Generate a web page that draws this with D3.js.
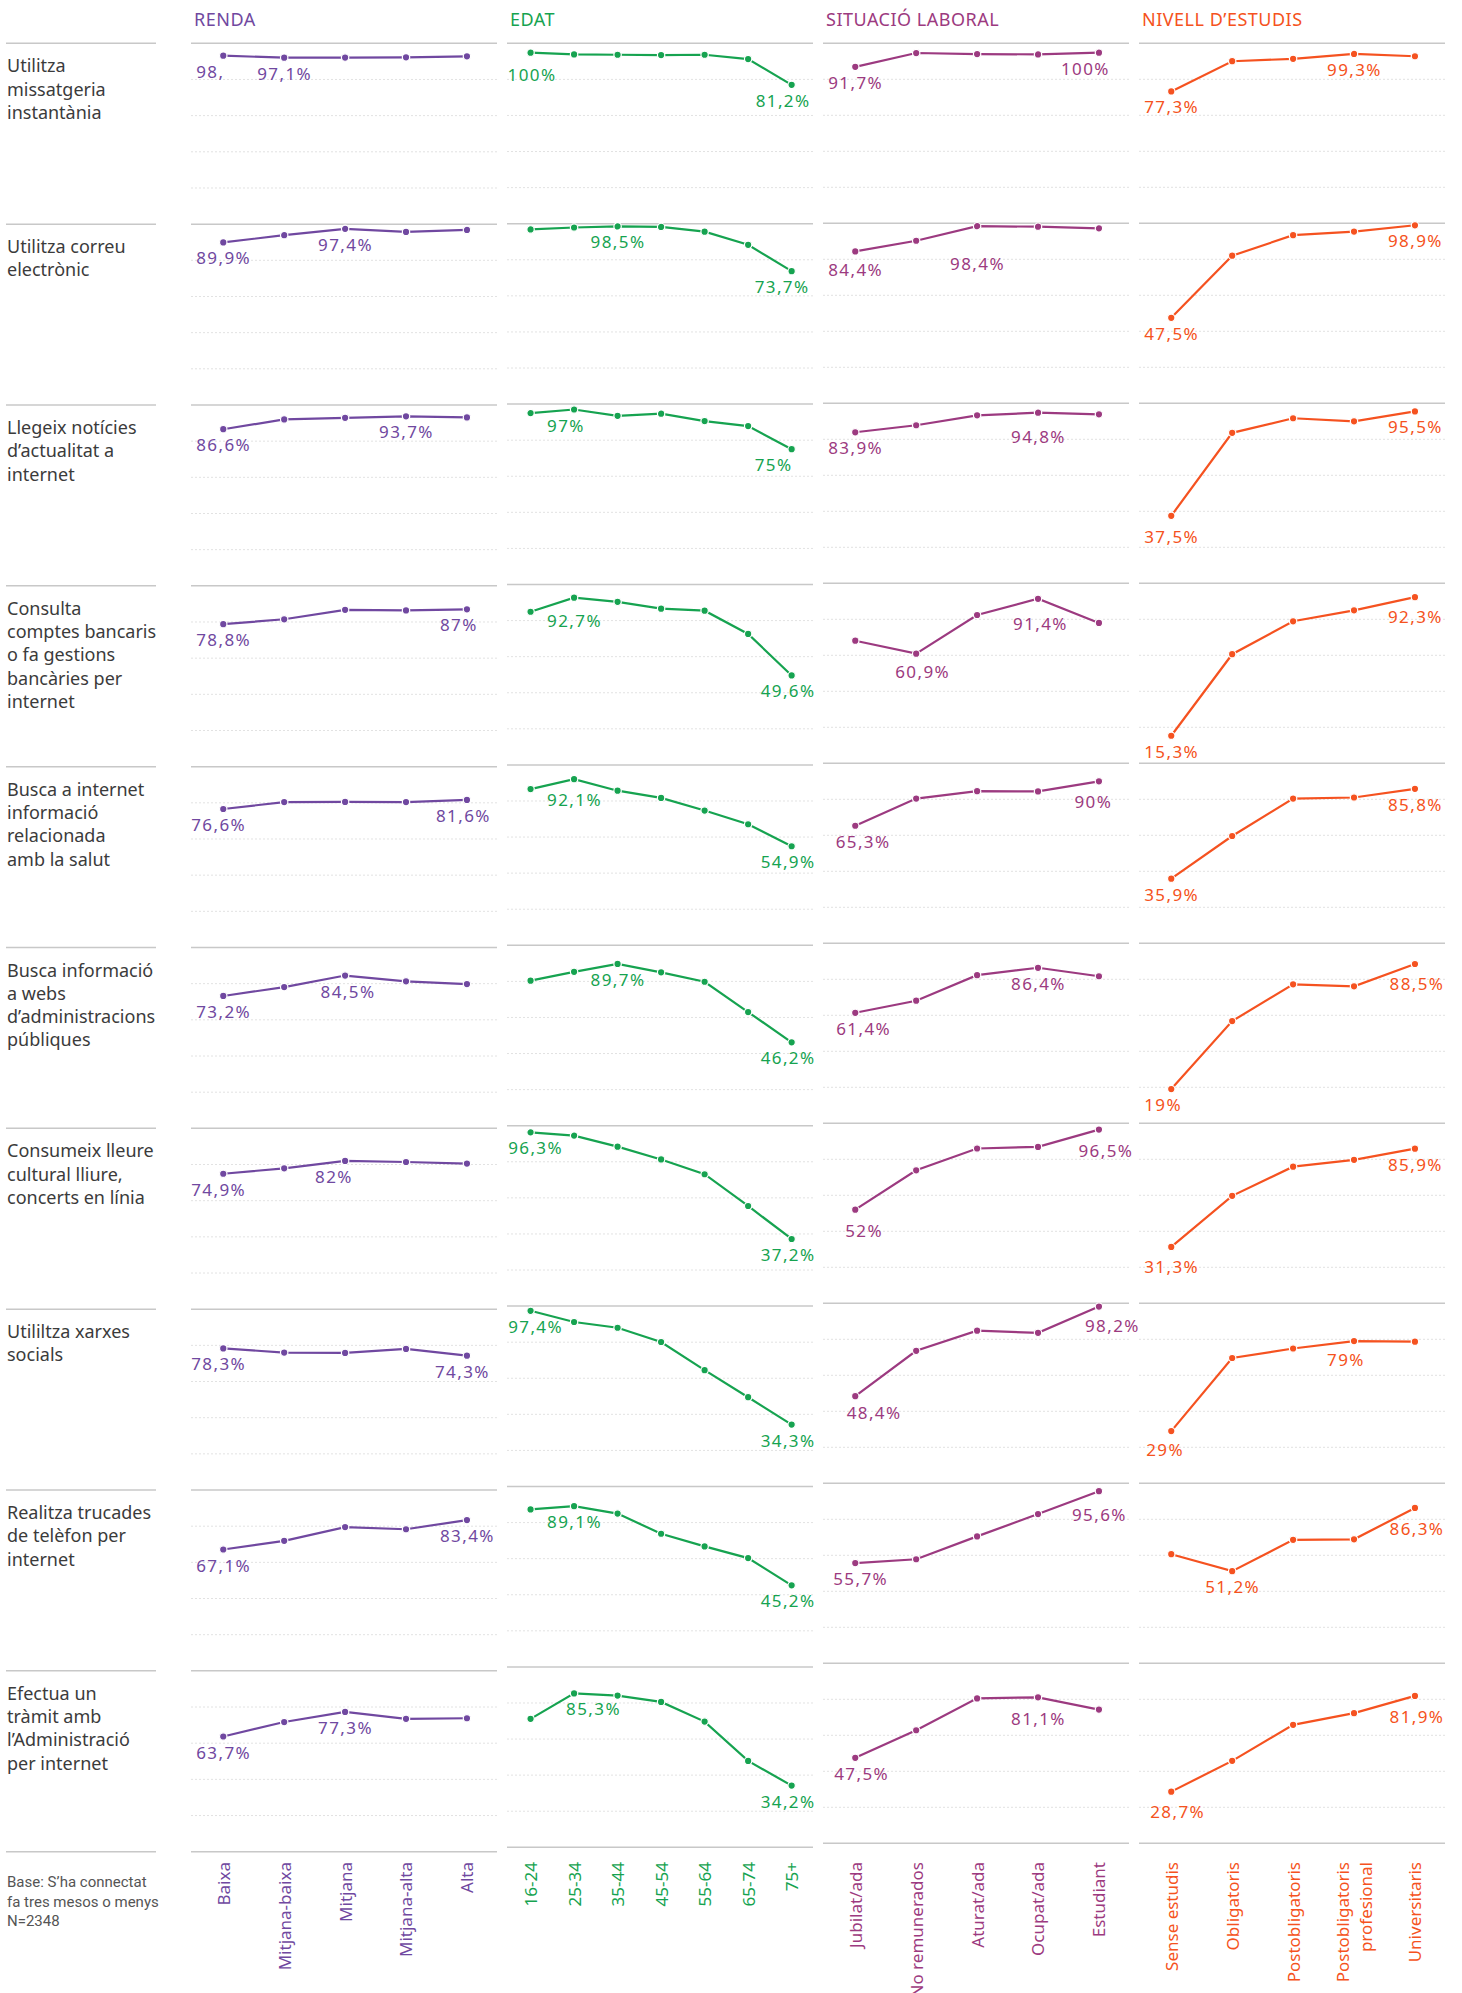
<!DOCTYPE html>
<html><head><meta charset="utf-8">
<script src="https://cdn.jsdelivr.net/npm/d3@7"></script>
<style>
body{margin:0;background:#fff;}
svg{display:block;font-family:'Noto Sans',sans-serif;}
</style>
</head><body>
<svg id="chart" width="1462" height="1993"></svg>
<script>
// ---------- DATA ----------
const columnTitles = ["RENDA", "EDAT", "SITUACIÓ LABORAL", "NIVELL D’ESTUDIS"];

const rendaCats = ["Baixa", "Mitjana-baixa", "Mitjana", "Mitjana-alta", "Alta"];
const edatCats = ["16-24", "25-34", "35-44", "45-54", "55-64", "65-74", "75+"];
const situacioCats = ["Jubilat/ada", "No remunerados", "Aturat/ada", "Ocupat/ada", "Estudiant"];
const estudisCats = ["Sense estudis", "Obligatoris", "Postobligatoris", "Postobligatoris profesional", "Universitaris"];

const rowLabels = [
  ["Utilitza", "missatgeria", "instantània"],
  ["Utilitza correu", "electrònic"],
  ["Llegeix notícies", "d’actualitat a", "internet"],
  ["Consulta", "comptes bancaris", "o fa gestions", "bancàries per", "internet"],
  ["Busca a internet", "informació", "relacionada", "amb la salut"],
  ["Busca informació", "a webs", "d’administracions", "públiques"],
  ["Consumeix lleure", "cultural lliure,", "concerts en línia"],
  ["Utililtza xarxes", "socials"],
  ["Realitza trucades", "de telèfon per", "internet"],
  ["Efectua un", "tràmit amb", "l’Administració", "per internet"]
];

const rendaValues = [
  [98.3, 97.1, 97.2, 97.3, 97.9],
  [89.9, 93.9, 97.4, 95.7, 96.8],
  [86.6, 92.0, 92.9, 93.7, 93.1],
  [78.8, 81.5, 86.7, 86.4, 87],
  [76.6, 80.4, 80.5, 80.4, 81.6],
  [73.2, 78.1, 84.5, 81.3, 79.8],
  [74.9, 77.9, 82, 81.4, 80.5],
  [78.3, 76.0, 75.8, 78.0, 74.3],
  [67.1, 71.9, 79.5, 78.3, 83.4],
  [63.7, 71.7, 77.3, 73.5, 73.8]
];
const edatValues = [
  [100, 99.0, 98.8, 98.6, 98.8, 96.3, 81.2],
  [96.8, 97.9, 98.5, 98.2, 95.6, 88.3, 73.7],
  [95.0, 97, 93.5, 94.7, 90.6, 87.8, 75],
  [84.9, 92.7, 90.4, 86.6, 85.5, 72.6, 49.6],
  [86.6, 92.1, 85.7, 81.7, 74.7, 67.1, 54.9],
  [80.4, 85.3, 89.7, 85.0, 79.8, 63.0, 46.2],
  [96.3, 94.5, 88.4, 81.3, 73.1, 55.5, 37.2],
  [97.4, 91.2, 88.0, 80.1, 64.5, 49.5, 34.3],
  [87.3, 89.1, 85.0, 73.8, 66.8, 60.3, 45.2],
  [71.2, 85.3, 84.1, 80.6, 69.7, 47.9, 34.2]
];
const situacioValues = [
  [91.7, 99.8, 99.2, 99.0, 100],
  [84.4, 90.3, 98.4, 98.1, 97.2],
  [83.9, 87.8, 93.3, 94.8, 93.9],
  [68.1, 60.9, 82.4, 91.4, 78.0],
  [65.3, 80.4, 84.5, 84.4, 90],
  [61.4, 68.1, 82.3, 86.4, 81.7],
  [52, 73.9, 86.0, 86.9, 96.5],
  [48.4, 73.6, 84.8, 83.6, 98.2],
  [55.7, 57.8, 70.5, 82.9, 95.6],
  [47.5, 62.8, 80.5, 81.1, 74.3]
];
const estudisValues = [
  [77.3, 95.0, 96.4, 99.3, 97.9],
  [47.5, 82.0, 93.4, 95.4, 98.9],
  [37.5, 83.6, 91.7, 90.0, 95.5],
  [15.3, 60.6, 78.9, 85.0, 92.3],
  [35.9, 59.6, 80.4, 81.0, 85.8],
  [19, 56.8, 77.2, 76.1, 88.5],
  [31.3, 59.7, 75.9, 79.7, 85.9],
  [29, 69.6, 74.9, 79, 78.7],
  [60.6, 51.2, 68.6, 68.9, 86.3],
  [28.7, 45.8, 65.8, 72.3, 81.9]
];

const footnoteLines = ["Base: S’ha connectat", "fa tres mesos o menys", "N=2348"];

// label text as printed in the source (truncated)
const labelTextOverrides = [{row: 0, col: 0, i: 0, text: "98,"}];

// ---------- LAYOUT / STYLE ----------
const columns = [
  {cats: rendaCats, values: rendaValues, color: "#7048a0"},
  {cats: edatCats, values: edatValues, color: "#16a350"},
  {cats: situacioCats, values: situacioValues, color: "#9c3a80"},
  {cats: estudisCats, values: estudisValues, color: "#f55220"}
];
const top0 = 43.3;
const colX = [191, 507, 823, 1139];
const colW = 306;
const rowH = [180.84, 180.4, 180.0, 180.0];
const rowDomainMax = [105.5, 100, 100, 100, 100, 100, 100, 100, 100, 100];
const axisTop = 1862;
const labelBase = 22;
// label placement nudges: [row, col, pointIndex, dx, baselineOffset]
const labelNudges = [
  [4,0,0,-5,null],[4,0,4,-4,null],[5,0,2,2.5,null],[6,0,0,-5,null],[6,0,2,-3,null],
  [7,0,0,-5,null],[7,0,4,-5,null],
  [0,1,0,4,28],[0,1,6,-9,null],[1,1,6,-10,null],[2,1,6,-10,null],
  [3,1,1,0,29],[3,1,6,-4,null],[4,1,1,0,27],[4,1,6,-4,null],[5,1,6,-4,null],
  [6,1,0,4.6,null],[6,1,6,-4,null],[7,1,0,4.6,null],[7,1,6,-4,null],[8,1,6,-4,null],
  [9,1,1,19,null],[9,1,6,-4,null],
  [0,2,4,-11,null],[1,2,0,0,25],[1,2,2,0,44],[2,2,3,0,30],[3,2,1,6,24],[3,2,3,2,31],
  [4,2,0,7.4,null],[4,2,4,2.5,27],[5,2,0,8,null],[6,2,0,17,27],[6,2,4,6.5,27],
  [7,2,0,18.4,23],[7,2,4,13,25],[8,2,0,5,null],[8,2,4,0,30],[9,2,0,6,null],[9,2,3,0,28],
  [2,3,0,0,27],[3,3,4,0,26],[5,3,4,1.6,26],[6,3,0,0,26],[7,3,0,2,25],[7,3,3,0,25],
  [8,3,4,1.6,27],[9,3,0,6,26],[9,3,4,1.6,27]
];

const fmt = v => (Number.isInteger(v) ? String(v) : v.toFixed(1).replace(".", ",")) + "%";

const svg = d3.select("#chart");

// column headers
columnTitles.forEach((t, c) => {
  svg.append("text")
    .attr("x", colX[c] + 3).attr("y", 26)
    .attr("fill", columns[c].color)
    .style("font-size", "18px").style("letter-spacing", "0.5px")
    .text(t);
});

// row label column
rowLabels.forEach((lines, r) => {
  const top = top0 + r * rowH[0];
  svg.append("line").attr("x1", 6).attr("x2", 156).attr("y1", top).attr("y2", top)
    .attr("stroke", "#c8c8c8").attr("stroke-width", 1.5);
  const t = svg.append("text").attr("x", 7).attr("y", top + 29)
    .attr("fill", "#3b3b3b").style("font-size", "18px");
  lines.forEach((ln, k) => {
    t.append("tspan").attr("x", 7).attr("dy", k === 0 ? 0 : 23.3).text(ln);
  });
});
svg.append("line").attr("x1", 6).attr("x2", 156)
  .attr("y1", top0 + 10 * rowH[0]).attr("y2", top0 + 10 * rowH[0])
  .attr("stroke", "#c8c8c8").attr("stroke-width", 1.5);

// footnote
const fn = svg.append("text").attr("x", 7).attr("y", 1887)
  .attr("fill", "#555").style("font-family", "Roboto, sans-serif").style("font-size", "15px");
footnoteLines.forEach((ln, k) => fn.append("tspan").attr("x", 7).attr("dy", k === 0 ? 0 : 19.7).text(ln));

// panels
columns.forEach((col, c) => {
  const x0 = colX[c];
  const x = d3.scalePoint().domain(col.cats).range([x0 + 1.8, x0 + 1.8 + 304.6]).padding(0.5);
  const H = rowH[c];
  const gridY = d3.scaleLinear().domain([0, 100]).range([H, 0]);

  col.values.forEach((vals, r) => {
    const top = top0 + r * H;
    const g = svg.append("g").attr("transform", `translate(0,${top})`);
    const y = d3.scaleLinear().domain([0, rowDomainMax[r]]).range([H, 0]);

    // gridlines
    g.selectAll(".grid").data([20, 40, 60, 80]).join("line")
      .attr("x1", x0).attr("x2", x0 + colW)
      .attr("y1", d => gridY(d)).attr("y2", d => gridY(d))
      .attr("stroke", "#e2e2e2").attr("stroke-width", 1).attr("stroke-dasharray", "2,2");
    // top rule
    g.append("line").attr("x1", x0).attr("x2", x0 + colW).attr("y1", 0).attr("y2", 0)
      .attr("stroke", "#c8c8c8").attr("stroke-width", 1.5);

    const pts = vals.map((v, i) => ({cat: col.cats[i], v, i}));
    g.append("path").datum(pts)
      .attr("d", d3.line().x(d => x(d.cat)).y(d => y(d.v)))
      .attr("fill", "none").attr("stroke", col.color).attr("stroke-width", 2.2);
    g.selectAll("circle").data(pts).join("circle")
      .attr("cx", d => x(d.cat)).attr("cy", d => y(d.v)).attr("r", 3.7)
      .attr("fill", col.color).attr("stroke", "#fff").attr("stroke-width", 1.2);

    // min / max labels
    const idxs = Array.from(new Set([d3.maxIndex(vals), d3.minIndex(vals)]));
    idxs.forEach(i => {
      const d = pts[i];
      const nudge = labelNudges.find(n => n[0] === r && n[1] === c && n[2] === i);
      const dx = nudge ? nudge[3] : 0;
      const dy = nudge && nudge[4] != null ? nudge[4] : labelBase;
      const ov = labelTextOverrides.find(o => o.row === r && o.col === c && o.i === i);
      g.append("text")
        .attr("x", x(d.cat) - 27 + dx).attr("y", y(d.v) + dy)
        .attr("fill", col.color)
        .style("font-size", "17px").style("letter-spacing", "1.4px")
        .text(ov ? ov.text : fmt(d.v));
    });
  });

  // bottom rule
  const bottom = top0 + 10 * H;
  svg.append("line").attr("x1", x0).attr("x2", x0 + colW).attr("y1", bottom).attr("y2", bottom)
    .attr("stroke", "#c8c8c8").attr("stroke-width", 1.5);

  // category axis
  const ax = svg.append("g").attr("transform", `translate(0,${axisTop})`)
    .call(d3.axisBottom(x).tickSize(0));
  ax.select(".domain").remove();
  ax.selectAll("text").each(function(d) {
    const t = d3.select(this);
    const words = d.split(" ");
    const lines = (d === "Postobligatoris profesional") ? words : [d];
    t.text(null)
      .attr("transform", "rotate(-90)")
      .attr("x", 0).attr("y", 0).attr("dy", null)
      .attr("text-anchor", "end")
      .attr("fill", col.color)
      .style("font-family", "'Noto Sans', sans-serif")
      .style("font-size", "17px");
    const n = lines.length;
    lines.forEach((ln, k) => {
      t.append("tspan").attr("x", 0)
        .attr("dy", k === 0 ? (0.35 - (n - 1) * 0.68) + "em" : "1.36em")
        .text(ln);
    });
  });
});
</script>
</body></html>
